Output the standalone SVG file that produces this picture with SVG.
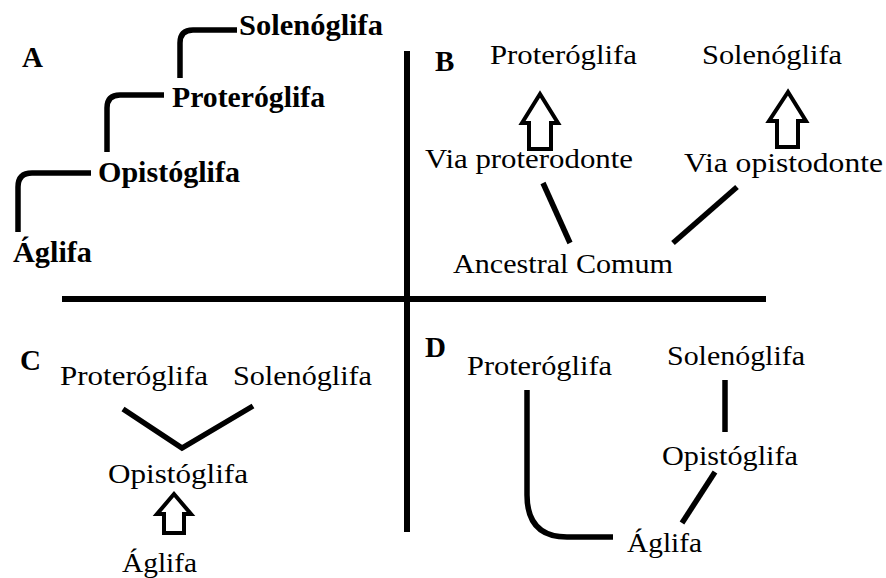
<svg xmlns="http://www.w3.org/2000/svg" width="886" height="578" viewBox="0 0 886 578">
<style>
text{font-family:"Liberation Serif","Times New Roman",serif;fill:#000;}
.b{font-weight:bold;font-size:29px;}
.r{font-size:28px;}
.ln{fill:none;stroke:#000;stroke-width:5.5;}
.ar{fill:#fff;stroke:#000;stroke-width:4;stroke-linejoin:miter;}
.ax{fill:none;stroke:#000;stroke-width:6;}
</style>
<rect width="886" height="578" fill="#fff"/>
<g id="axes">
<line class="ax" x1="407" y1="51" x2="407" y2="532"/>
<line class="ax" x1="62" y1="299" x2="766" y2="299"/>
</g>
<g id="labels">
<text class="b" x="22" y="67">A</text>
<text class="b" x="435" y="71">B</text>
<text class="b" x="20" y="370">C</text>
<text class="b" x="425" y="357">D</text>
</g>
<g id="panelA">
<g id="a-solen"><text class="b" x="239" y="35" textLength="144" lengthAdjust="spacingAndGlyphs">Solenóglifa</text></g>
<g id="a-protero"><text class="b" x="172" y="107" textLength="153" lengthAdjust="spacingAndGlyphs">Proteróglifa</text></g>
<g id="a-opisto"><text class="b" x="98" y="182" textLength="142" lengthAdjust="spacingAndGlyphs">Opistóglifa</text></g>
<g id="a-aglifa"><text class="b" x="13" y="262" textLength="79" lengthAdjust="spacingAndGlyphs">Áglifa</text></g>
</g>
<g id="panelB">
<g id="b-protero"><text class="r" x="490" y="64" textLength="147" lengthAdjust="spacingAndGlyphs">Proteróglifa</text></g>
<g id="b-solen"><text class="r" x="702" y="64" textLength="140" lengthAdjust="spacingAndGlyphs">Solenóglifa</text></g>
<g id="b-viaprot"><text class="r" x="425" y="168" textLength="208" lengthAdjust="spacingAndGlyphs">Via proterodonte</text></g>
<g id="b-viaopis"><text class="r" x="684" y="172" textLength="199" lengthAdjust="spacingAndGlyphs">Via opistodonte</text></g>
<g id="b-ancestral"><text class="r" x="453" y="273" textLength="220" lengthAdjust="spacingAndGlyphs">Ancestral Comum</text></g>
</g>
<g id="panelC">
<g id="c-protero"><text class="r" x="60" y="385" textLength="148" lengthAdjust="spacingAndGlyphs">Proteróglifa</text></g>
<g id="c-solen"><text class="r" x="233" y="385" textLength="139" lengthAdjust="spacingAndGlyphs">Solenóglifa</text></g>
<g id="c-opisto"><text class="r" x="108" y="483" textLength="140" lengthAdjust="spacingAndGlyphs">Opistóglifa</text></g>
<g id="c-aglifa"><text class="r" x="122" y="572" textLength="75" lengthAdjust="spacingAndGlyphs">Áglifa</text></g>
</g>
<g id="panelD">
<g id="d-protero"><text class="r" x="467" y="375" textLength="145" lengthAdjust="spacingAndGlyphs">Proteróglifa</text></g>
<g id="d-solen"><text class="r" x="667" y="365" textLength="138" lengthAdjust="spacingAndGlyphs">Solenóglifa</text></g>
<g id="d-opisto"><text class="r" x="662" y="465" textLength="136" lengthAdjust="spacingAndGlyphs">Opistóglifa</text></g>
<g id="d-aglifa"><text class="r" x="627" y="552" textLength="75" lengthAdjust="spacingAndGlyphs">Áglifa</text></g>
</g>
<g id="connectors">
<path class="ln" d="M180 78 V43 Q180 30 193 30 H237"/>
<path class="ln" d="M107 152 V108 Q107 95 120 95 H164"/>
<path class="ln" d="M18 232 V187 Q18 173 32 173 H91"/>
<path class="ar" d="M540 94 L522 123 L529 123 L529 149 L551 149 L551 123 L558 123 Z"/>
<path class="ar" d="M788 92 L769 121 L777 121 L777 147 L798 147 L798 121 L806 121 Z"/>
<line class="ln" x1="543" y1="183" x2="570" y2="243"/>
<line class="ln" x1="673" y1="243" x2="737" y2="187"/>
<path class="ln" d="M123 409 L182 448 L253 406"/>
<path class="ar" d="M174 494 L157 514 L164 514 L164 533 L184 533 L184 514 L191 514 Z"/>
<line class="ln" x1="725" y1="380" x2="725" y2="432"/>
<line class="ln" x1="715" y1="472" x2="682" y2="523"/>
<path class="ln" d="M527 390 V495 Q527 537 567 537 H613"/>
</g>
</svg>
